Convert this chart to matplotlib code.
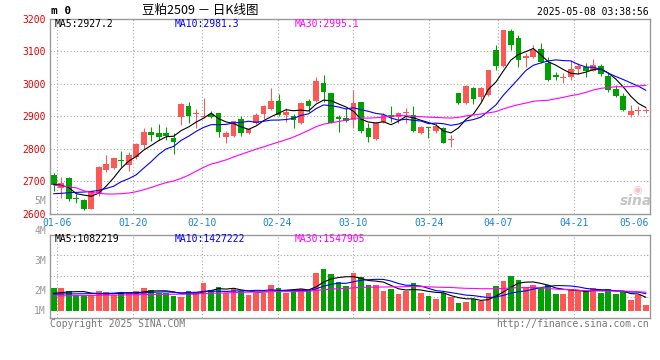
import numpy as np
import pandas as pd
import matplotlib
matplotlib.use('Agg')
import matplotlib.pyplot as plt

W, H = 660, 360

# daily K data, 2025-01-03 .. 2025-05-08 (80 trading days)
opens = [2718, 2677, 2710, 2646, 2641, 2615, 2664, 2735, 2741, 2764,
         2749, 2774, 2810, 2850, 2848, 2848, 2833, 2898, 2931, 2905,
         2898, 2906, 2910, 2836, 2838, 2890, 2849, 2877, 2906, 2921,
         2946, 2903, 2900, 2880, 2946, 2946, 3001, 2972, 2898, 2893,
         2888, 2944, 2862, 2828, 2883, 2903, 2898, 2908, 2902, 2849,
         2864, 2855, 2864, 2825, 2971, 2941, 2985, 2957, 2964, 3102,
         3054, 3163, 3139, 3077, 3082, 3105, 3062, 3027, 3016, 3019,
         3046, 3050, 3040, 3055, 3024, 2984, 2961, 2903, 2916, 2916]
highs = [2726, 2711, 2712, 2661, 2646, 2670, 2745, 2779, 2772, 2792,
         2790, 2817, 2864, 2865, 2875, 2867, 2847, 2939, 2943, 2922,
         2954, 2916, 2910, 2855, 2885, 2900, 2860, 2908, 2934, 2985,
         2968, 2926, 2906, 2944, 2951, 3019, 3026, 2972, 2903, 2924,
         2980, 2944, 2877, 2883, 2908, 2931, 2913, 2924, 2930, 2869,
         2865, 2878, 2867, 2842, 2971, 2995, 2990, 2990, 3043, 3119,
         3166, 3168, 3148, 3095, 3118, 3125, 3082, 3036, 3032, 3072,
         3062, 3062, 3075, 3060, 3031, 2994, 2971, 2933, 2930, 2925]
lows = [2670, 2649, 2639, 2633, 2610, 2613, 2654, 2728, 2738, 2744,
        2731, 2769, 2800, 2823, 2826, 2826, 2782, 2872, 2877, 2862,
        2893, 2893, 2834, 2818, 2834, 2838, 2845, 2874, 2890, 2918,
        2900, 2883, 2862, 2875, 2913, 2944, 2944, 2877, 2852, 2883,
        2862, 2849, 2821, 2826, 2880, 2883, 2880, 2880, 2852, 2845,
        2833, 2847, 2816, 2806, 2937, 2937, 2937, 2944, 2961, 3041,
        3052, 3102, 3051, 3051, 3080, 3063, 3009, 3011, 3001, 3011,
        3029, 3021, 3037, 3024, 2974, 2959, 2915, 2896, 2903, 2908]
closes = [2687, 2694, 2644, 2644, 2615, 2668, 2743, 2751, 2772, 2761,
          2779, 2813, 2850, 2843, 2836, 2839, 2821, 2936, 2900, 2910,
          2900, 2898, 2852, 2849, 2885, 2849, 2860, 2903, 2931, 2946,
          2903, 2913, 2888, 2941, 2932, 3008, 2975, 2880, 2891, 2885,
          2941, 2854, 2836, 2877, 2903, 2896, 2908, 2910, 2855, 2865,
          2862, 2869, 2818, 2827, 2941, 2992, 2951, 2985, 3041, 3053,
          3164, 3117, 3071, 3085, 3102, 3065, 3011, 3019, 3018, 3044,
          3054, 3040, 3058, 3029, 2981, 2961, 2918, 2916, 2918, 2918]
# volume in millions of lots
volumes = [1.86, 1.86, 1.62, 1.25, 1.25, 1.25, 1.62, 1.53, 1.31, 1.42,
           1.48, 1.62, 1.86, 1.70, 1.48, 1.48, 1.21, 1.12, 1.62, 1.53,
           2.27, 1.70, 1.94, 1.42, 1.86, 1.62, 1.25, 1.48, 1.48, 2.11,
           1.86, 1.48, 1.70, 1.78, 1.70, 3.09, 3.42, 3.03, 2.35, 2.03,
           3.12, 2.76, 2.11, 2.11, 1.62, 1.78, 1.37, 1.62, 2.27, 1.45,
           1.21, 0.96, 1.45, 1.12, 0.63, 0.71, 0.96, 0.80, 1.45, 2.03,
           2.44, 2.85, 2.52, 1.86, 2.11, 1.86, 2.11, 1.37, 1.37, 1.78,
           1.70, 1.62, 1.86, 1.45, 1.78, 1.37, 1.53, 0.88, 1.29, 0.47]

# moving averages at the start of the window (need data before 01-03)
ma5_head = [2690, 2687, 2680, 2661]
ma10_head = [2661, 2662, 2664, 2665, 2666, 2668, 2671, 2677, 2684]
ma30_head = [2687, 2685, 2682, 2679, 2670, 2665, 2662, 2660, 2660, 2661,
             2663, 2667, 2673, 2680, 2688, 2695, 2700, 2708, 2718, 2730,
             2742, 2752, 2758, 2765, 2774, 2782, 2790, 2798, 2805]
vma5_head = [1.42, 1.48, 1.54, 1.56]
vma10_head = [1.37, 1.37, 1.38, 1.38, 1.39, 1.40, 1.41, 1.42, 1.44]
vma30_head = [1.22, 1.22, 1.23, 1.23, 1.24, 1.25, 1.26, 1.27, 1.28, 1.29,
              1.30, 1.31, 1.32, 1.33, 1.34, 1.35, 1.35, 1.36, 1.37, 1.38,
              1.40, 1.42, 1.44, 1.46, 1.48, 1.50, 1.52, 1.54, 1.56]

date_labels = ['01-06', '01-20', '02-10', '02-24', '03-10', '03-24', '04-07', '04-21', '05-06']
date_index = [1, 11, 20, 30, 40, 50, 59, 69, 77]
price_ticks = [2600, 2700, 2800, 2900, 3000, 3100, 3200]
vol_labels = ['5M', '4M', '3M', '2M', '1M']
vol_label_y = [200.7, 231, 260.7, 290.7, 310.7]  # pixel rows as drawn by sina

RED = '#ff5656'
GREEN = '#00a000'
BLUE = '#0000ff'
MAGENTA = '#ff00ff'
DATE_BLUE = '#1a84d6'
GRID = '#a8a8a8'
SPINE = '#9a9a9a'
MONO = 'DejaVu Sans Mono'
LW = 0.8


def moving_average(values, n, head):
    s = pd.Series(values, dtype=float).rolling(n).mean().to_numpy()
    s[:len(head)] = head
    return s


def px_box(left, top, right, bottom):
    return [left / W, 1 - bottom / H, (right - left) / W, (bottom - top) / H]


def ftext(x, y, s, **kw):
    fig.text(x / W, 1 - y / H, s, va='center', **kw)


fig = plt.figure(figsize=(W / 100, H / 100), dpi=100)
fig.patch.set_facecolor('white')

ax = fig.add_axes(px_box(50, 18.5, 649.5, 213.5))
axv = fig.add_axes(px_box(50, 234.7, 649.5, 317.7))

n = len(closes)
x = np.arange(n)
o = np.array(opens, dtype=float)
c = np.array(closes, dtype=float)
up = c >= o
colors = np.where(up, RED, GREEN)

# grid positions (sina spaces date lines slightly wider than candles)
grid_x = [(7.6 * i - 0.3) / 7.5 - 0.5 for i in date_index]

for a in (ax, axv):
    a.set_xlim(-0.5, n - 0.5)
    for s in a.spines.values():
        s.set_color(SPINE)
        s.set_linewidth(1.0)
    for gx in grid_x[:-1]:
        a.axvline(gx, color=GRID, lw=0.8, ls=(0, (1, 2)), zorder=0)
    a.tick_params(length=0)

# price panel
ax.set_ylim(2600, 3200)
for p in price_ticks[1:-1]:
    ax.axhline(p, color=GRID, lw=0.8, ls=(0, (1, 2)), zorder=0)
ax.set_yticks(price_ticks)
ax.set_yticklabels([str(p) for p in price_ticks], color='#e60000',
                   fontsize=7, family=MONO)
ax.tick_params(axis='y', pad=3)
ax.set_xticks(grid_x)
ax.set_xticklabels(date_labels, color=DATE_BLUE, fontsize=7, family=MONO)
ax.tick_params(axis='x', pad=3)

ax.vlines(x, lows, highs, colors=colors, lw=0.75, zorder=2)
body_lo = np.minimum(o, c)
body_h = np.maximum(np.abs(c - o), 3.0)
ax.bar(x, body_h, bottom=body_lo, width=0.76, color=colors, lw=0, zorder=3)

ax.plot(x, moving_average(closes, 5, ma5_head), color='black', lw=LW, zorder=4)
ax.plot(x, moving_average(closes, 10, ma10_head), color=BLUE, lw=LW, zorder=4)
ax.plot(x, moving_average(closes, 30, ma30_head), color=MAGENTA, lw=LW, zorder=4)

# volume panel
px_per_m = 1 / 0.082
vlo, vhi = -7 / px_per_m, 76 / px_per_m
axv.set_ylim(vlo, vhi)
for f in (0.25, 0.5, 0.75):
    axv.axhline(vlo + f * (vhi - vlo), color=GRID, lw=0.8, ls=(0, (1, 2)), zorder=0)
axv.set_yticks([])
axv.set_xticks([])
axv.bar(x, volumes, width=0.76, color=colors, lw=0, zorder=2)
axv.plot(x, moving_average(volumes, 5, vma5_head), color='black', lw=LW, zorder=4)
axv.plot(x, moving_average(volumes, 10, vma10_head), color=BLUE, lw=LW, zorder=4)
axv.plot(x, moving_average(volumes, 30, vma30_head), color=MAGENTA, lw=LW, zorder=4)

for lab, yy in zip(vol_labels, vol_label_y):
    ftext(46, yy, lab, ha='right', color='#999999', fontsize=7, family=MONO)

# header
ftext(51, 11, 'm 0', ha='left', color='black', fontsize=8, family=MONO, fontweight='bold')
ftext(200, 10, '豆粕2509 － 日K线图', ha='center', color='black', fontsize=9,
      family=['Noto Sans CJK SC', 'DejaVu Sans'])
ftext(649, 12, '2025-05-08 03:38:56', ha='right', color='black', fontsize=7, family=MONO)

ftext(55, 24, 'MA5:2927.2', ha='left', color='black', fontsize=7, family=MONO)
ftext(175, 24, 'MA10:2981.3', ha='left', color=BLUE, fontsize=7, family=MONO)
ftext(295, 24, 'MA30:2995.1', ha='left', color=MAGENTA, fontsize=7, family=MONO)

ftext(55, 238.5, 'MA5:1082219', ha='left', color='black', fontsize=7, family=MONO)
ftext(175, 238.5, 'MA10:1427222', ha='left', color=BLUE, fontsize=7, family=MONO)
ftext(295, 238.5, 'MA30:1547905', ha='left', color=MAGENTA, fontsize=7, family=MONO)

# watermark
ftext(637, 190, '◉', ha='center', color='#f6c4c4', fontsize=8, family='DejaVu Sans')
ftext(636, 201, 'sina', ha='center', color='#c4c4c4', fontsize=10,
      fontweight='bold', fontstyle='italic', family='DejaVu Sans')

# footer
ftext(50, 324, 'Copyright 2025 SINA.COM', ha='left', color='#777777', fontsize=7, family=MONO)
ftext(649, 324, 'http://finance.sina.com.cn', ha='right', color='#777777', fontsize=7, family=MONO)

fig.savefig('out.png', dpi=100)
